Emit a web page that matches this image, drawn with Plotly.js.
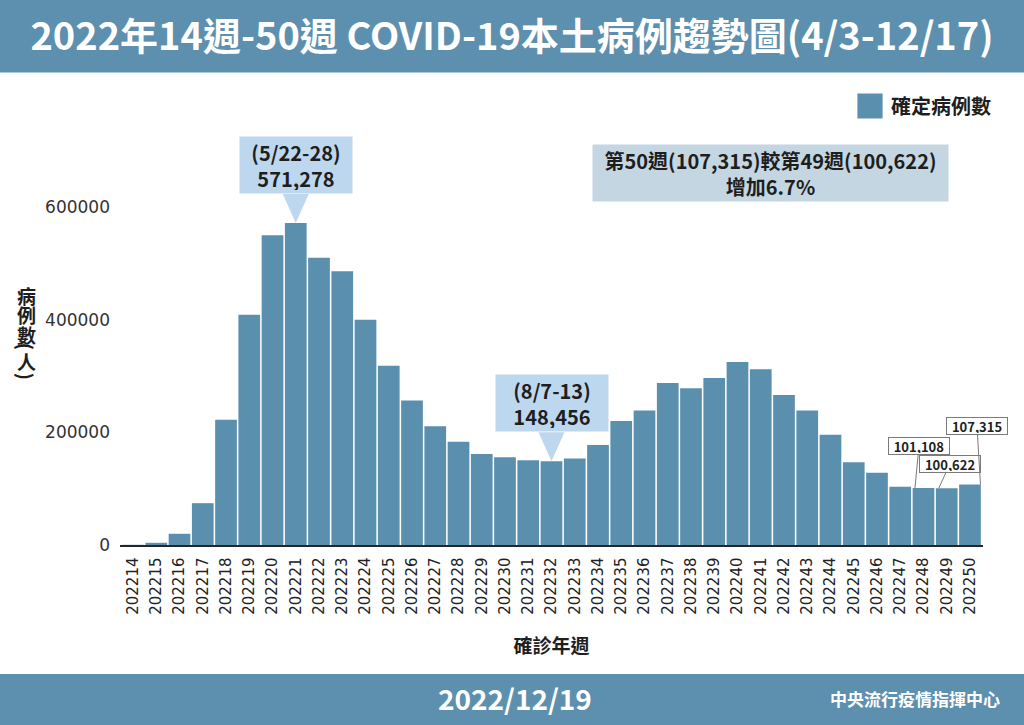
<!DOCTYPE html>
<html><head><meta charset="utf-8">
<script src="https://cdn.plot.ly/plotly-3.0.1.min.js"></script>
<style>
html,body{margin:0;padding:0;background:#fff;}
#chart{width:1024px;height:725px;}
.legend .legendpoints path{transform:translate(25px,0) scale(2.1);}
</style></head><body><div id="chart"></div>
<script>
// ---- data ----
const weeks = ['202214','202215','202216','202217','202218','202219','202220','202221','202222','202223',
  '202224','202225','202226','202227','202228','202229','202230','202231','202232','202233',
  '202234','202235','202236','202237','202238','202239','202240','202241','202242','202243',
  '202244','202245','202246','202247','202248','202249','202250'];
const cases = [350, 3900, 19900, 74200, 222200, 408600, 549400, 571278, 509800, 485500,
  399700, 318000, 256500, 210500, 183000, 161500, 155500, 150500, 148456, 153500,
  177500, 220000, 238500, 287500, 278000, 296500, 324500, 312000, 266000, 238500,
  195500, 147000, 128000, 103500, 101108, 100622, 107315];
const seriesName = '確定病例數';
const yTickVals = [0, 200000, 400000, 600000];
const peakWeekLabel = '(5/22-28)';
const troughWeek = '202232';
const troughWeekLabel = '(8/7-13)';
const labelledWeeks = ['202248', '202249', '202250'];
const titleText = '2022年14週-50週 COVID-19本土病例趨勢圖(4/3-12/17)';
const xTitle = '確診年週';
const yTitleChars = ['病', '例', '數', '(', '人', ')'];
const dateText = '2022/12/19';
const orgText = '中央流行疫情指揮中心';

// ---- layout helpers ----
const W = 1024, H = 725, L = 120, R = 41, T = 80, B = 180;
const plotW = W - L - R, plotH = H - T - B;
const px = x => (x - L) / plotW;
const py = y => (H - B - y) / plotH;

const CJK = '"Noto Sans CJK TC", "Noto Sans CJK SC", sans-serif';
const BAR = '#5b8fae';
const BAND = '#5d90af';
const fmt = v => v.toLocaleString('en-US');

const pi = cases.indexOf(Math.max(...cases));
const ti = weeks.indexOf(troughWeek);
const last = cases[cases.length - 1], prev = cases[cases.length - 2];
const pct = ((last - prev) / prev * 100).toFixed(1);

const trace = {
  type: 'bar', x: weeks, y: cases, name: seriesName,
  marker: {color: BAR}, hoverinfo: 'x+y'
};

// category positions are given as the category index (documented form for category axes)
const callout = (i, label) => ({
  x: i, y: cases[i], xref: 'x', yref: 'y',
  text: '<b>' + label + '<br>' + fmt(cases[i]) + '</b>',
  showarrow: false, yanchor: 'bottom', xanchor: 'center', yshift: 29,
  bgcolor: '#bdd7ee', width: 106, height: 50, borderpad: 3,
  font: {family: CJK, size: 20, color: '#1e1e1e'}
});
const pointer = i => ({
  type: 'path', xref: 'x', yref: 'y', xsizemode: 'pixel', ysizemode: 'pixel',
  xanchor: i, yanchor: cases[i], path: 'M-13,29L13,29L0,0Z',
  fillcolor: '#bdd7ee', line: {width: 0}, layer: 'above'
});

const smallOffsets = [[-8.5, 4, -42], [-8, 11, -24], [10.5, -3.5, -58.5]];
const smallLabels = labelledWeeks.map((w, k) => {
  const i = weeks.indexOf(w);
  const [xs, ax, ay] = smallOffsets[k];
  return {
    x: i, y: cases[i], xref: 'x', yref: 'y', xshift: xs,
    text: '<b>' + fmt(cases[i]) + '</b>', showarrow: true, arrowhead: 0,
    arrowwidth: 1, arrowcolor: '#7a7a7a', ax: ax, ay: ay, standoff: 0,
    bgcolor: '#ffffff', bordercolor: '#7a7a7a', borderwidth: 1, borderpad: 1,
    width: 58, height: 14,
    font: {family: CJK, size: 13, color: '#222'}
  };
});

const yTitleY = [295, 314.5, 334, 346.5, 361, 376.5];
const yTitleAnn = yTitleChars.map((c, k) => ({
  xref: 'paper', yref: 'paper', x: px(26.7), y: py(yTitleY[k]),
  text: '<b>' + c + '</b>', showarrow: false, xanchor: 'center', yanchor: 'middle',
  textangle: (c === '(' || c === ')') ? 90 : 0, borderpad: 0,
  font: {family: CJK, size: 19, color: '#1e1e1e'}
}));

const annotations = [
  callout(pi, peakWeekLabel),
  callout(ti, troughWeekLabel),
  {
    xref: 'paper', yref: 'paper', x: px(770.5), y: py(173),
    text: '<b>第50週(' + fmt(last) + ')較第49週(' + fmt(prev) + ')<br>增加' + pct + '%</b>',
    showarrow: false, xanchor: 'center', yanchor: 'middle',
    bgcolor: '#c4d6e2', width: 351, height: 52, borderpad: 2,
    font: {family: CJK, size: 20, color: '#1e1e1e'}
  },
  ...smallLabels,
  ...yTitleAnn,
  {
    xref: 'paper', yref: 'paper', x: px(515), y: py(698),
    text: '<b>' + dateText + '</b>', showarrow: false, xanchor: 'center', yanchor: 'middle',
    font: {family: CJK, size: 28, color: '#ffffff'}
  },
  {
    xref: 'paper', yref: 'paper', x: px(1002), y: py(698),
    text: '<b>' + orgText + '</b>', showarrow: false, xanchor: 'right', yanchor: 'middle',
    font: {family: CJK, size: 17, color: '#ffffff'}
  }
];

const shapes = [
  {type: 'rect', xref: 'paper', yref: 'paper', x0: px(0), x1: px(W), y0: py(0), y1: py(72.5),
   fillcolor: BAND, line: {width: 0}, layer: 'below'},
  {type: 'rect', xref: 'paper', yref: 'paper', x0: px(0), x1: px(W), y0: py(674), y1: py(H),
   fillcolor: BAND, line: {width: 0}, layer: 'below'},
  pointer(pi),
  pointer(ti)
];

const layout = {
  width: W, height: H,
  margin: {l: L, r: R, t: T, b: B, autoexpand: false},
  paper_bgcolor: '#ffffff', plot_bgcolor: '#ffffff',
  title: {
    text: '<b>' + titleText + '</b>', xref: 'container', yref: 'container',
    x: 0.5, y: 1 - 37 / H, xanchor: 'center', yanchor: 'middle',
    font: {family: CJK, size: 38, color: '#ffffff'}
  },
  bargap: 0.066,
  showlegend: true,
  legend: {
    x: px(845), y: py(106), xanchor: 'left', yanchor: 'middle',
    bgcolor: 'rgba(0,0,0,0)', itemwidth: 36,
    font: {family: CJK, size: 20, color: '#1e1e1e', weight: 'bold'}
  },
  xaxis: {
    type: 'category', range: [-0.56, 36.56], tickangle: -90,
    showline: true, linecolor: '#262626', linewidth: 1.5, ticks: '',
    showgrid: false, zeroline: false, ticklabelstandoff: 5,
    tickfont: {family: 'DejaVu Sans', size: 15, color: '#222'},
    title: {text: '<b>' + xTitle + '</b>', standoff: 26,
      font: {family: CJK, size: 19, color: '#1e1e1e'}}
  },
  yaxis: {
    range: [0, 825000], tickvals: yTickVals, tickformat: 'd',
    showline: false, showgrid: false, zeroline: false, ticks: '',
    ticklabelstandoff: 9,
    tickfont: {family: 'DejaVu Sans', size: 17, color: '#333'}
  },
  annotations: annotations,
  shapes: shapes
};

Plotly.newPlot('chart', [trace], layout, {displayModeBar: false, staticPlot: true});
</script>
</body></html>
